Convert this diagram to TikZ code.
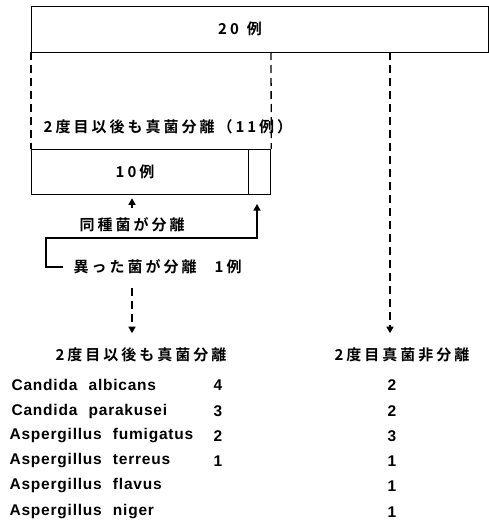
\documentclass[tikz,border=0pt]{standalone}
\usepackage{fontspec}
\usetikzlibrary{arrows.meta,calc}
\newfontfamily\jp[LetterSpace=20]{Noto Sans CJK JP Bold}
\newfontfamily\lat[LetterSpace=5,WordSpace=2.2]{Liberation Sans Bold}
\begin{document}
\begin{tikzpicture}[x=1pt,y=-1pt,
  line width=1.3pt,
  boxs/.style={draw,inner sep=0pt,anchor=north west},
  jt/.style={font=\jp\fontsize{15}{16}\selectfont,inner sep=0pt},
  lt/.style={font=\lat\fontsize{15.5}{16}\selectfont,inner sep=0pt,anchor=west},
  num/.style={font=\lat\fontsize{15.5}{16}\selectfont,inner sep=0pt},
  dsh/.style={dashed,dash pattern=on 8pt off 5pt},
  arr/.style={-{Triangle[width=7pt,length=6.5pt]}}]
\useasboundingbox (0,0) rectangle (489,522);
% top box
\node[boxs,minimum width=457pt,minimum height=46pt] (top) at (31,6) {};
\node[jt] (t20) at (240,29) {20\hspace{8pt}例};
% 11 cases label
\node[jt,anchor=west] (l11) at (43,127) {2度目以後も真菌分離（11例）};
% 10 box
\node[boxs,minimum width=217pt,minimum height=45pt] (box10) at (31,149) {};
\node[boxs,minimum width=22pt,minimum height=45pt] (box1) at (248,149) {};
\node[jt] (t10) at (135,172) {10例};
% dashed verticals
\coordinate (dA) at (31,52);
\coordinate (dB) at (271,52);
\coordinate (dC) at (390,52);
\draw[dsh] (dA) -- (box10.north west);
\draw[dsh] (dB) -- (box1.north east);
% same species
\node[jt] (same) at (132,225) {同種菌が分離};
\draw[arr,shorten <=17pt,shorten >=3pt] (same.center) -- (same.center |- box10.south);
% different
\node[jt,anchor=west] (diff) at (73,267) {異った菌が分離\hspace{18pt}1例};
\coordinate (bL) at (63,267);
\coordinate (bB) at (46,267);
\coordinate (bT) at (46,238);
\coordinate (bR) at (257,238);
\coordinate (bE) at (257,204);
\draw[arr] (bL) -- (bB) -- (bT) -- (bR) -- (bE);
% headings
\node[jt] (h1) at (141,355) {2度目以後も真菌分離};
\node[jt] (h2) at (402,355) {2度目真菌非分離};
\coordinate (dD) at (132,288);
\draw[dsh,arr] (dD) -- ($(dD |- h1.north)+(0,-14)$);
\draw[dsh,arr] (dC) -- ($(dC |- h2.north)+(0,-14)$);
% table
\node[lt] (n1) at (11,385) {Candida albicans};
\node[lt] (n2) at (11,411) {Candida parakusei};
\node[lt] (n3) at (9,436) {Aspergillus fumigatus};
\node[lt] (n4) at (9,461) {Aspergillus terreus};
\node[lt] (n5) at (9,486) {Aspergillus flavus};
\node[lt] (n6) at (9,512) {Aspergillus niger};
\node[num] (a1) at (218,385) {4};
\node[num] (a2) at (218,411) {3};
\node[num] (a3) at (218,436) {2};
\node[num] (a4) at (218,461) {1};
\node[num] (b1) at (392,385) {2};
\node[num] (b2) at (392,411) {2};
\node[num] (b3) at (392,436) {3};
\node[num] (b4) at (392,461) {1};
\node[num] (b5) at (392,486) {1};
\node[num] (b6) at (392,512) {1};
\end{tikzpicture}
\end{document}
